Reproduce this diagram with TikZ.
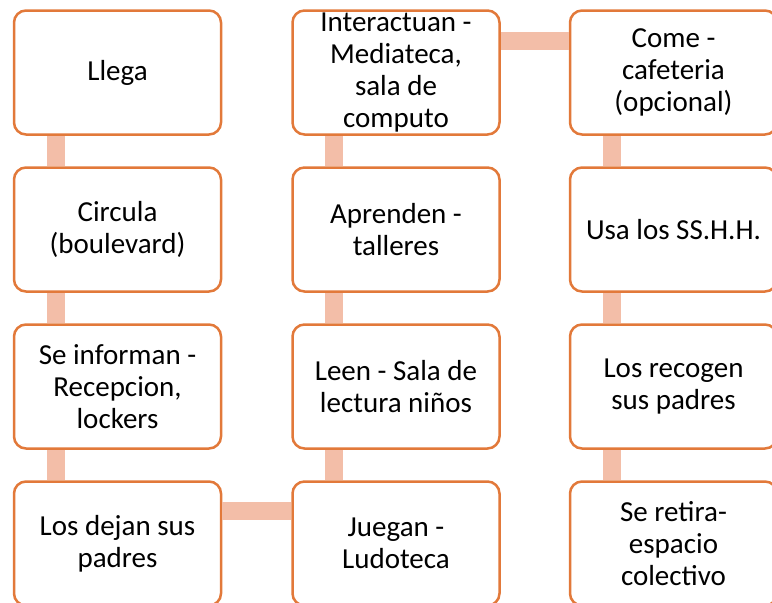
\documentclass[tikz,border=0pt]{standalone}
\usepackage{fontspec}
\setmainfont{Carlito}
\usetikzlibrary{calc}
\definecolor{borde}{HTML}{E2793A}
\definecolor{barra}{HTML}{F3BEA8}

\begin{document}
\begin{tikzpicture}[x=1pt, y=-1pt]
    \tikzstyle{every node}=[draw=borde, line width=2.5pt, fill=white, rounded corners=12pt,
        minimum width=207pt, minimum height=124pt, align=center, inner sep=0pt,
        font=\fontsize{29}{31.8}\selectfont]
    \tikzstyle{bar}=[draw=barra, line width=18.4pt]
    \useasboundingbox (0,0) rectangle (772,603);
    \clip (0,0) rectangle (772,603);
    % first column, going down
    \node (llega) at (117.5,72.5) {Llega};
    \node (circula) at ($(llega)+(0,157)$) {Circula\\(boulevard)};
    \node (informan) at ($(circula)+(0,157)$) {Se informan -\\Recepcion,\\lockers};
    \node (dejan) at ($(informan)+(0,157)$) {Los dejan sus\\padres};
    % second column, going up
    \node (juegan) at ($(dejan)+(278.5,0)$) {Juegan -\\Ludoteca};
    \node (leen) at ($(juegan)+(0,-157)$) {Leen - Sala de\\lectura niños};
    \node (aprenden) at ($(leen)+(0,-157)$) {Aprenden -\\talleres};
    \node (interact) at ($(aprenden)+(0,-157)$) {Interactuan -\\Mediateca,\\sala de\\computo};
    % third column, going down
    \node (come) at ($(interact)+(277.5,0)$) {Come -\\cafeteria\\(opcional)};
    \node (usa) at ($(come)+(0,157)$) {Usa los SS.H.H.};
    \node (recogen) at ($(usa)+(0,157)$) {Los recogen\\sus padres};
    \node (retira) at ($(recogen)+(0,157)$) {Se retira-\\espacio\\colectivo};
    % connectors
    \draw[bar] ($(llega.south west)+(43.5,0)$) -- ($(circula.north west)+(43.5,0)$);
    \draw[bar] ($(circula.south west)+(43.5,0)$) -- ($(informan.north west)+(43.5,0)$);
    \draw[bar] ($(informan.south west)+(43.5,0)$) -- ($(dejan.north west)+(43.5,0)$);
    \draw[bar] ($(dejan.north east)+(0,31)$) -- ($(juegan.north west)+(0,31)$);
    \draw[bar] ($(juegan.north west)+(43,0)$) -- ($(leen.south west)+(43,0)$);
    \draw[bar] ($(leen.north west)+(43,0)$) -- ($(aprenden.south west)+(43,0)$);
    \draw[bar] ($(aprenden.north west)+(43,0)$) -- ($(interact.south west)+(43,0)$);
    \draw[bar] ($(interact.north east)+(0,32)$) -- ($(come.north west)+(0,32)$);
    \draw[bar] ($(come.south west)+(43,0)$) -- ($(usa.north west)+(43,0)$);
    \draw[bar] ($(usa.south west)+(43,0)$) -- ($(recogen.north west)+(43,0)$);
    \draw[bar] ($(recogen.south west)+(43,0)$) -- ($(retira.north west)+(43,0)$);
\end{tikzpicture}
\end{document}
